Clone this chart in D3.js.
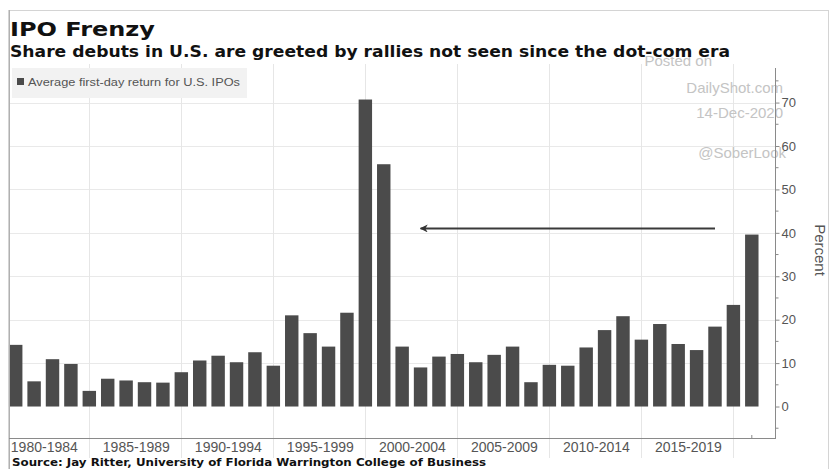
<!DOCTYPE html>
<html lang="en">
<head>
    <meta charset="UTF-8">
    <title>IPO Frenzy</title>
    <style>
        body { margin: 0; background: #fff; }
        .title { font-family: "DejaVu Sans", Verdana, sans-serif; font-weight: bold; fill: #111; }
        .tick-text { font-family: "Liberation Sans", Arial, sans-serif; fill: #555; }
        .wm { font-family: "Liberation Sans", Arial, sans-serif; fill: #c4c4c4; font-size: 15px; text-anchor: end; }
    </style>
</head>
<body>
<div id="chart"></div>
<script src="https://cdn.jsdelivr.net/npm/d3@7"></script>
<script>
    // data
    const years = d3.range(1980, 2021);
    const firstDayReturn = [14.2, 5.8, 10.9, 9.8, 3.6, 6.4, 6.0, 5.6, 5.5, 7.9,
        10.6, 11.7, 10.2, 12.5, 9.4, 21.0, 16.9, 13.8, 21.6, 70.7,
        55.8, 13.8, 9.0, 11.5, 12.1, 10.2, 11.9, 13.8, 5.6, 9.6,
        9.4, 13.6, 17.6, 20.8, 15.4, 19.0, 14.4, 13.0, 18.4, 23.4,
        39.6];
    const groupLabels = ["1980-1984", "1985-1989", "1990-1994", "1995-1999",
        "2000-2004", "2005-2009", "2010-2014", "2015-2019"];
    const yTicks = [0, 10, 20, 30, 40, 50, 60, 70];
    const arrowFrom = 2018, arrowTo = 2002, arrowLevel = 41;

    const W = 831, H = 469;
    const plot = {left: 9, right: 775, top: 68, bottom: 438};

    const svg = d3.select("#chart").append("svg")
        .attr("width", W).attr("height", H);

    // arrow head
    svg.append("defs").append("marker")
        .attr("id", "head")
        .attr("viewBox", "0 0 10 10")
        .attr("refX", 9).attr("refY", 5)
        .attr("markerWidth", 4).attr("markerHeight", 4)
        .attr("orient", "auto")
        .append("path")
        .attr("d", "M0,0 L10,5 L0,10 L3,5 Z")
        .attr("fill", "#333");

    // outer frame
    svg.append("rect")
        .attr("x", 8.5).attr("y", 10.5)
        .attr("width", 820).attr("height", 470)
        .attr("fill", "none").attr("stroke", "#d4d4d4");

    const x = d3.scaleBand()
        .domain(years)
        .range([6.5, 761])
        .paddingInner(0.27)
        .paddingOuter(0.135);
    const mid = d => x(d) + x.bandwidth() / 2;

    const y = d3.scaleLinear()
        .domain([-7.25, 77.5])
        .range([plot.bottom, plot.top + 2]);

    // gridlines
    svg.append("g").selectAll("line")
        .data(yTicks.slice(1))
        .join("line")
        .attr("x1", plot.left).attr("x2", plot.right)
        .attr("y1", d => Math.round(y(d)) + 0.5)
        .attr("y2", d => Math.round(y(d)) + 0.5)
        .attr("stroke", "#e9e9e9");

    const gridYears = groupLabels.map(l => +l.slice(5));
    svg.append("g").selectAll("line")
        .data(gridYears)
        .join("line")
        .attr("x1", d => Math.round(mid(d)) + 0.5)
        .attr("x2", d => Math.round(mid(d)) + 0.5)
        .attr("y1", plot.top - 4).attr("y2", 458)
        .attr("stroke", "#e6e6e6");

    // legend
    svg.append("rect")
        .attr("x", 12).attr("y", 68)
        .attr("width", 235).attr("height", 30)
        .attr("fill", "#f2f2f2");
    svg.append("rect")
        .attr("x", 17).attr("y", 78)
        .attr("width", 7).attr("height", 7)
        .attr("fill", "#4a4a4a");
    svg.append("text")
        .attr("class", "tick-text")
        .attr("x", 28).attr("y", 85.5)
        .attr("font-size", 10)
        .attr("textLength", 212)
        .attr("lengthAdjust", "spacingAndGlyphs")
        .text("Average first-day return for U.S. IPOs");

    // watermark
    const wm = [["Posted on", 712, 66], ["DailyShot.com", 783, 93], ["14-Dec-2020", 783, 118], ["@SoberLook", 786, 158]];
    svg.append("g").selectAll("text")
        .data(wm)
        .join("text")
        .attr("class", "wm")
        .attr("x", d => d[1]).attr("y", d => d[2])
        .text(d => d[0]);

    // bars
    svg.append("g").selectAll("rect")
        .data(years)
        .join("rect")
        .attr("x", d => x(d))
        .attr("width", x.bandwidth())
        .attr("y", (d, i) => y(firstDayReturn[i]))
        .attr("height", (d, i) => y(0) - y(firstDayReturn[i]))
        .attr("fill", "#4b4b4b");

    // arrow
    svg.append("line")
        .attr("x1", mid(arrowFrom))
        .attr("x2", mid(arrowTo))
        .attr("y1", y(arrowLevel)).attr("y2", y(arrowLevel))
        .attr("stroke", "#3a3a3a").attr("stroke-width", 2)
        .attr("marker-end", "url(#head)");

    // plot left edge and x axis line
    svg.append("line")
        .attr("x1", 9.5).attr("x2", 9.5).attr("y1", 10).attr("y2", 469)
        .attr("stroke", "#b0b0b0");
    svg.append("line")
        .attr("x1", plot.left).attr("x2", plot.right + 1)
        .attr("y1", plot.bottom + 0.5).attr("y2", plot.bottom + 0.5)
        .attr("stroke", "#8a8a8a");
    svg.append("g").selectAll("line")
        .data([2020])
        .join("line")
        .attr("x1", d => mid(d)).attr("x2", d => mid(d))
        .attr("y1", plot.bottom).attr("y2", plot.bottom - 3)
        .attr("stroke", "#8a8a8a");

    // right y axis
    const yAxis = d3.axisRight(y)
        .tickValues(yTicks)
        .tickSize(4)
        .tickPadding(2);
    const gy = svg.append("g")
        .attr("transform", `translate(${plot.right + 0.5},0)`)
        .call(yAxis);
    gy.select(".domain").attr("d", `M0,${plot.top}V${plot.bottom}`).attr("stroke", "#8a8a8a");
    gy.selectAll(".tick line").attr("stroke", "#8a8a8a");
    gy.selectAll(".tick text")
        .attr("class", "tick-text")
        .attr("font-size", 13);
    // minor ticks
    gy.append("g").selectAll("line")
        .data(d3.range(-5, 80, 10))
        .join("line")
        .attr("x2", 3)
        .attr("y1", d => y(d)).attr("y2", d => y(d))
        .attr("stroke", "#8a8a8a");

    svg.append("text")
        .attr("class", "tick-text")
        .attr("transform", "translate(815,250) rotate(90)")
        .attr("text-anchor", "middle")
        .attr("font-size", 15)
        .attr("fill", "#444")
        .text("Percent");

    // x group labels, centred between the group gridlines
    svg.append("g").selectAll("text")
        .data(groupLabels)
        .join("text")
        .attr("class", "tick-text")
        .attr("x", d => mid(+d.slice(0, 4) + 2) - x.step() / 2 + 1)
        .attr("y", 452)
        .attr("text-anchor", "middle")
        .attr("font-size", 14)
        .text(d => d);

    // titles
    svg.append("text")
        .attr("class", "title")
        .attr("x", 10).attr("y", 36)
        .attr("font-size", 20)
        .attr("textLength", 145)
        .attr("lengthAdjust", "spacingAndGlyphs")
        .text("IPO Frenzy");
    svg.append("text")
        .attr("class", "title")
        .attr("x", 10).attr("y", 57)
        .attr("font-size", 15)
        .attr("textLength", 720)
        .attr("lengthAdjust", "spacingAndGlyphs")
        .text("Share debuts in U.S. are greeted by rallies not seen since the dot-com era");
    svg.append("text")
        .attr("class", "title")
        .attr("x", 12).attr("y", 466)
        .attr("font-size", 10)
        .attr("textLength", 474)
        .attr("lengthAdjust", "spacingAndGlyphs")
        .text("Source: Jay Ritter, University of Florida Warrington College of Business");
</script>
</body>
</html>
